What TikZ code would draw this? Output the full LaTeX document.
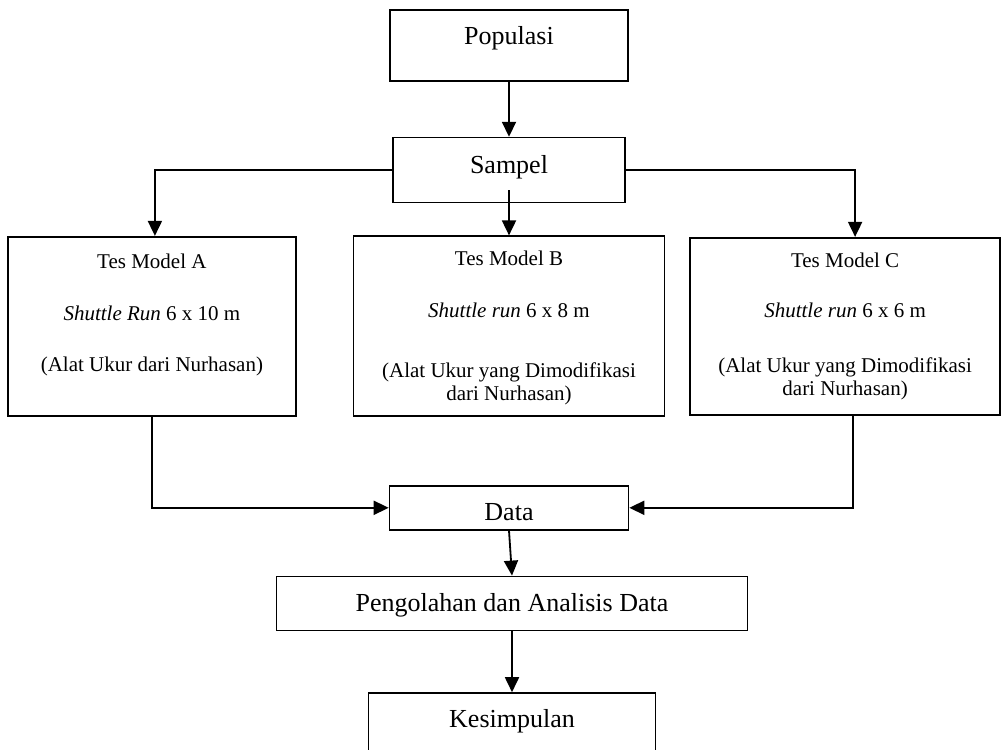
\documentclass[tikz,border=0pt]{standalone}
\usepackage{fontspec}
\setmainfont{Liberation Serif}
\usetikzlibrary{arrows.meta,positioning}
\newcommand{\headfont}{\fontsize{26}{30}\selectfont}
\newcommand{\testfont}{\fontsize{21}{23}\selectfont}

\begin{document}
\begin{tikzpicture}[
    box/.style={draw, line width=1.6pt, inner sep=0pt, align=center, font=\headfont},
    tes/.style={box, font=\testfont},
    arr/.style={-{Triangle[length=15pt, width=14pt]}, line width=1.8pt}
]
\useasboundingbox (0pt,0pt) rectangle (1008pt,-749pt);
\node[box, minimum width=238pt, text height=35pt, text depth=36pt] (pop) at (509pt,-45.5pt) {Populasi};
\node[box, minimum width=232pt, text height=36pt, text depth=29pt, below=55pt of pop] (sam) {Sampel};
\node[tes, minimum width=311pt, text height=164pt, text depth=16pt, below=32pt of sam] (tesB) {Tes Model B\\[29pt]\textit{Shuttle run} 6 x 8 m\\[37pt](Alat Ukur yang Dimodifikasi\\dari Nurhasan)};
\node[tes, minimum width=288pt, text height=135pt, text depth=44pt, left=56pt of tesB] (tesA) {Tes Model A\\[29pt]\textit{Shuttle Run} 6 x 10 m\\[28pt](Alat Ukur dari Nurhasan)};
\node[tes, minimum width=310pt, text height=158pt, text depth=19pt, right=24pt of tesB] (tesC) {Tes Model C\\[27pt]\textit{Shuttle run} 6 x 6 m\\[32pt](Alat Ukur yang Dimodifikasi\\dari Nurhasan)};
\node[box, minimum width=239pt, text height=35pt, text depth=9pt, below=68pt of tesB] (data) {Data};
\node[box, minimum width=471pt, text height=35pt, text depth=19pt, below=45pt of data, xshift=3pt] (peng) {Pengolahan dan Analisis Data};
\node[box, minimum width=287pt, text height=34pt, text depth=70pt, below=61pt of peng] (kes) {Kesimpulan};
\coordinate (samB) at ([yshift=13pt]sam.south);
\draw[arr] (pop.south) -- (sam.north);
\draw[arr] (sam.west) -| ([xshift=3pt]tesA.north);
\draw[arr] (samB) -- (tesB.north);
\draw[arr] (sam.east) -| ([xshift=10pt]tesC.north);
\draw[arr] (tesA.south) |- (data.west);
\draw[arr] ([xshift=8pt]tesC.south) |- (data.east);
\draw[arr] (data.south) -- (peng.north);
\draw[arr] (peng.south) -- (kes.north);
\end{tikzpicture}
\end{document}
